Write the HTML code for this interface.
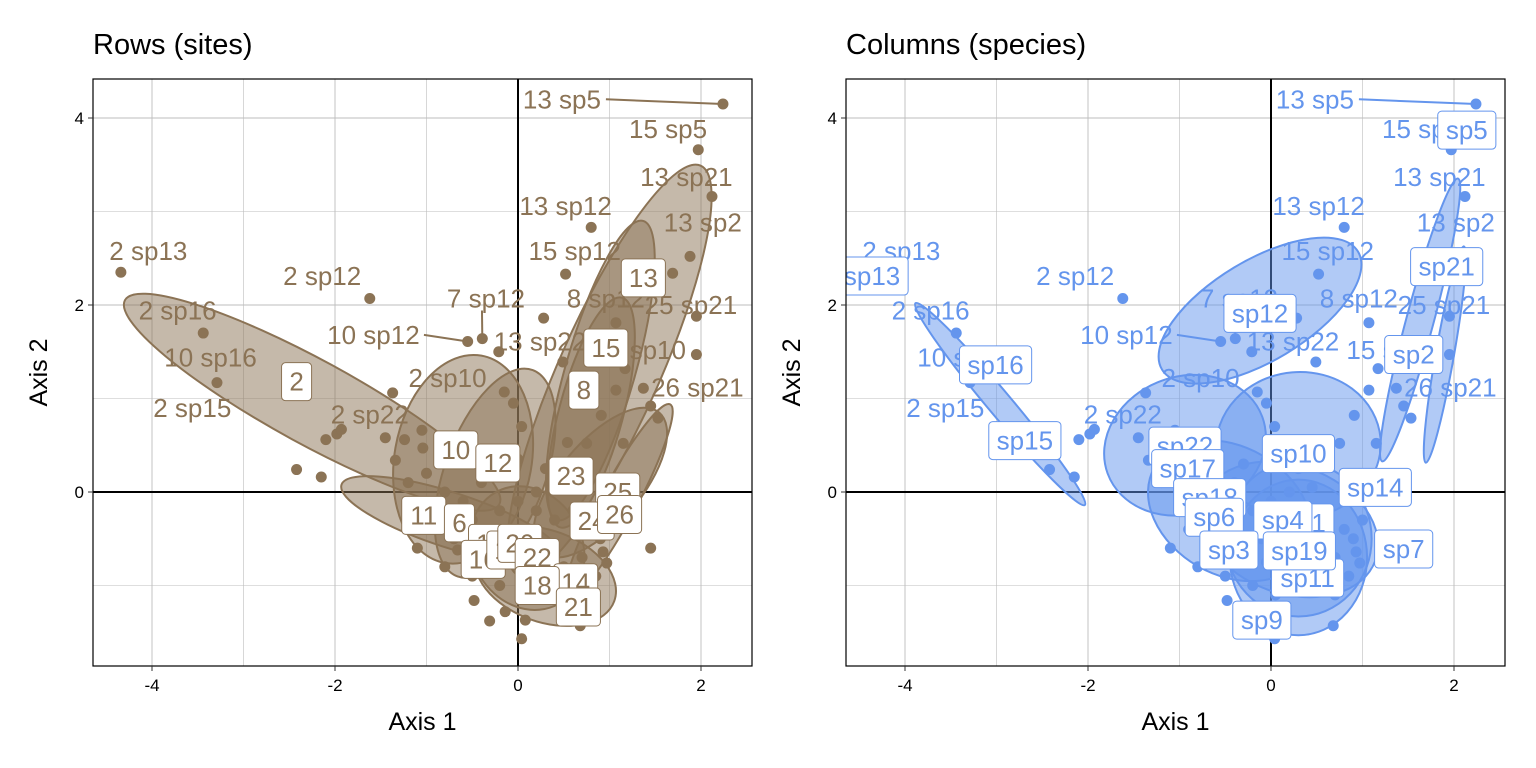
<!DOCTYPE html>
<html><head><meta charset="utf-8"><style>
body{margin:0;background:#fff}
svg{display:block;font-family:"Liberation Sans",sans-serif}
</style></head><body>
<svg id="chart" width="1536" height="768" viewBox="0 0 1536 768"></svg>
<script>
// shared point data (Axis 1, Axis 2)
const ptX=[2.24,1.97,2.12,1.88,1.95,1.95,-4.34,-3.44,-3.29,-1.62,-0.55,-0.39,-0.21,0.28,0.52,0.80,-2.42,-2.15,-2.10,-1.98,-1.93,1.45,0.04,-0.31,-0.48,-0.14,0.68,1.69,1.07,1.17,1.07,0.49,1.37,1.45,1.53,0.91,0.54,0.75,1.15,-0.15,-0.05,0.04,-1.37,-1.45,-1.24,-1.05,-1.04,-1.34,0.97,0.93,-0.66,0.08,0.05,
-1.2,-1.0,-0.8,-0.6,-0.4,-0.2,0.0,0.2,0.4,0.6,0.8,1.0,-0.9,-0.7,-0.5,-0.3,-0.1,0.1,0.3,0.5,0.7,0.9,-0.8,-0.5,-0.2,0.1,0.4,0.7,-0.3,0.0,0.3,0.6,-1.1,-0.6,0.2,0.85,0.45,-0.05];
const ptY=[4.15,3.66,3.16,2.52,1.88,1.47,2.35,1.70,1.17,2.07,1.61,1.64,1.50,1.86,2.33,2.83,0.24,0.16,0.56,0.62,0.67,-0.60,-1.57,-1.38,-1.16,-1.28,-1.43,2.34,1.81,1.32,1.09,1.39,1.11,0.92,0.79,0.82,0.53,0.52,0.52,1.07,0.95,0.70,1.06,0.58,0.56,0.66,0.47,0.34,-0.76,-0.64,-0.62,-1.37,-1.10,
0.1,0.2,0.0,-0.1,0.1,-0.2,-0.1,0.0,-0.3,-0.2,-0.4,-0.3,-0.4,-0.5,-0.3,-0.6,-0.5,-0.7,-0.6,-0.8,-0.7,-0.5,-0.8,-0.9,-1.0,-0.9,-1.0,-1.1,0.3,0.35,0.25,0.3,-0.6,-0.2,-0.2,-0.9,0.05,-0.75];
// ellipses: centre, semi-axes (axis units), angle (deg, screen)
const eL_cx=[-2.25,1.0,0.9,0.8,-0.6,-0.25,-0.74,0.9,1.1,0.3,0.1];
const eL_cy=[0.96,1.3,1.3,0.85,0.35,0.2,-0.3,0.1,-0.1,-0.9,-0.6];
const eL_a=[2.33,2.45,1.7,1.3,1.15,1.2,1.25,1.0,1.2,0.8,0.7];
const eL_b=[0.46,0.55,0.38,0.35,0.75,0.55,0.3,0.45,0.2,0.5,0.6];
const eL_ang=[28.6,-66,-74,-75,-80,-70,18,-50,-62,20,60];
const eR_cx=[-2.96,-0.12,1.63,1.90,-0.94,0.3,-0.45,0.3,0.3,0.2];
const eR_cy=[0.94,1.94,1.84,1.47,0.5,0.5,-0.2,-0.5,-0.7,-0.4];
const eR_a=[1.44,1.25,1.6,1.2,0.9,0.9,0.95,0.8,0.75,1.0];
const eR_b=[0.13,0.55,0.15,0.1,0.75,0.8,0.7,0.85,0.85,0.7];
const eR_ang=[50,-31,-75,-80,-20,-5,30,0,0,20];
// free text labels (shared)
const tLab=["13 sp5","15 sp5","13 sp21","13 sp12","13 sp2","15 sp12","2 sp13","2 sp12","7 sp12","8 sp12","25 sp21","2 sp16","10 sp12","13 sp22","15 sp10","10 sp16","2 sp10","26 sp21","2 sp15","2 sp22"];
const tX=[0.48,1.64,1.84,0.52,2.02,0.62,-4.04,-2.14,-0.35,0.96,1.89,-3.72,-1.58,0.24,1.33,-3.36,-0.77,1.96,-3.56,-1.62];
const tY=[4.20,3.88,3.37,3.06,2.88,2.58,2.58,2.31,2.07,2.07,2.0,1.94,1.68,1.61,1.52,1.44,1.22,1.12,0.90,0.83];
// boxed labels
const bL=["2","10","12","11","6","13","15","8","23","25","24","26","17","16","19","20","22","14","18","21"];
const bLX=[-2.42,-0.68,-0.22,-1.03,-0.64,1.37,0.96,0.72,0.58,1.09,0.81,1.11,-0.30,-0.38,-0.1,0.02,0.21,0.63,0.21,0.66];
const bLY=[1.18,0.45,0.31,-0.25,-0.33,2.29,1.54,1.09,0.17,0.0,-0.31,-0.24,-0.55,-0.72,-0.62,-0.55,-0.70,-0.97,-1.0,-1.23];
const bR=["sp5","sp21","sp2","sp14","sp7","sp12","sp16","sp15","sp13","sp22","sp17","sp8","sp18","sp6","sp10","sp1","sp4","sp3","sp11","sp19","sp9"];
const bRX=[2.14,1.92,1.56,1.14,1.45,-0.12,-3.01,-2.69,-4.36,-0.94,-0.91,-0.62,-0.67,-0.62,0.30,0.37,0.13,-0.46,0.40,0.31,-0.10];
const bRY=[3.87,2.41,1.47,0.05,-0.61,1.91,1.36,0.55,2.31,0.49,0.25,-0.2,-0.06,-0.27,0.41,-0.33,-0.30,-0.62,-0.92,-0.63,-1.37];
// leader lines: label index -> point index
const leadT=[0,8,12];
const leadP=[0,11,10];

const FS=26;
const NS="http://www.w3.org/2000/svg";
const svg=document.getElementById('chart');
function mk(tag,attrs,parent){const e=document.createElementNS(NS,tag);for(const k in attrs)e.setAttribute(k,attrs[k]);(parent||svg).appendChild(e);return e;}

function panel(p){
  const x0=p.left, x1=p.left+659, y0=79, y1=666;
  const xs=v=>p.zero+91.5*v, ys=v=>492-93.5*v;
  const g=mk('g',{});
  
  
  const t=mk('text',{x:x0,y:54,'font-size':29,fill:'#000'},g);t.textContent=p.title;
  
  
  const cid='clip'+p.left;
  const cp=mk('clipPath',{id:cid},g);mk('rect',{x:x0,y:y0,width:659,height:587},cp);
  const pl=mk('g',{'clip-path':'url(#'+cid+')'},g);
  for(let v=-5;v<=3;v++){const l=mk('line',{x1:xs(v),x2:xs(v),y1:y0,y2:y1,stroke:'#bdbdbd','stroke-width':v%2?0.6:0.9},pl);}
  for(let v=-2;v<=5;v++){const l=mk('line',{y1:ys(v),y2:ys(v),x1:x0,x2:x1,stroke:'#bdbdbd','stroke-width':v%2?0.6:0.9},pl);}
  const zx=mk('line',{x1:xs(0),x2:xs(0),y1:y0,y2:y1,stroke:'#000','stroke-width':2},pl);
  
  const zy=mk('line',{y1:ys(0),y2:ys(0),x1:x0,x2:x1,stroke:'#000','stroke-width':2},pl);
  
  for(let i=0;i<p.ecx.length;i++){
    const e=mk('ellipse',{cx:xs(p.ecx[i]),cy:ys(p.ecy[i]),rx:p.ea[i]*91.5,ry:p.eb[i]*91.5,transform:`rotate(${p.eang[i]} ${xs(p.ecx[i])} ${ys(p.ecy[i])})`,fill:p.fill,stroke:p.col,'stroke-width':2},pl);
    
    
  }
  for(let i=0;i<ptX.length;i++){
    const c=mk('circle',{cx:xs(ptX[i]),cy:ys(ptY[i]),r:5.5,fill:p.col},pl);
    
    
  }
  for(let k=0;k<leadT.length;k++){
    const i=leadT[k],j=leadP[k];
    const w=tLab[i].length*FS*0.5;
    const sx=i===8?xs(tX[i])-4:xs(tX[i])+w/2+5, sy=i===8?ys(tY[i])+12:ys(tY[i]);
    const l=mk('line',{x1:sx,y1:sy,x2:xs(ptX[j]),y2:ys(ptY[j]),stroke:p.col,'stroke-width':2},pl);
    
    
  }
  for(let i=0;i<tLab.length;i++){
    const tt=mk('text',{x:xs(tX[i]),y:ys(tY[i])+9,'font-size':FS,fill:p.col,'text-anchor':'middle'},pl);
    tt.textContent=tLab[i];
    
    
  }
  for(let i=0;i<p.bl.length;i++){
    const w=p.bl[i].length*FS*0.54+16, cx=xs(p.bx[i]), cy=ys(p.by[i]);
    const bg=mk('g',{},pl);
    
    
    mk('rect',{x:cx-w/2,y:cy-19,width:w,height:38,rx:4,fill:'#fff',stroke:p.col,'stroke-width':1},bg);
    const tt=mk('text',{x:cx,y:cy+9,'font-size':FS,fill:p.col,'text-anchor':'middle'},bg);
    tt.textContent=p.bl[i];
  }
  const fr=mk('rect',{x:x0,y:y0,width:659,height:587,fill:'none',stroke:'#000','stroke-width':1.2},g);
  
  for(const v of [-4,-2,0,2]){
    mk('line',{x1:xs(v),x2:xs(v),y1:y1,y2:y1+5,stroke:'#333'},g);
    const tl=mk('text',{x:xs(v),y:y1+25,'font-size':17,fill:'#000','text-anchor':'middle'},g);tl.textContent=v;
    
  }
  for(const v of [0,2,4]){
    mk('line',{x1:x0-5,x2:x0,y1:ys(v),y2:ys(v),stroke:'#333'},g);
    const tl=mk('text',{x:x0-9,y:ys(v)+6,'font-size':17,fill:'#000','text-anchor':'end'},g);tl.textContent=v;
    
  }
  const xt=mk('text',{x:(x0+x1)/2,y:730,'font-size':25,fill:'#000','text-anchor':'middle'},g);xt.textContent='Axis 1';
  
  const yt=mk('text',{x:0,y:0,'font-size':25,fill:'#000','text-anchor':'middle',transform:`translate(${x0-46},${(y0+y1)/2}) rotate(-90)`},g);yt.textContent='Axis 2';
  
}
panel({name:'rows-panel',title:'Rows (sites)',left:93,zero:518,col:'#8B7355',fill:'rgba(139,115,85,0.5)',ecx:eL_cx,ecy:eL_cy,ea:eL_a,eb:eL_b,eang:eL_ang,bl:bL,bx:bLX,by:bLY});
panel({name:'columns-panel',title:'Columns (species)',left:846,zero:1271,col:'#6495ED',fill:'rgba(100,149,237,0.5)',ecx:eR_cx,ecy:eR_cy,ea:eR_a,eb:eR_b,eang:eR_ang,bl:bR,bx:bRX,by:bRY});
</script>
</body></html>
